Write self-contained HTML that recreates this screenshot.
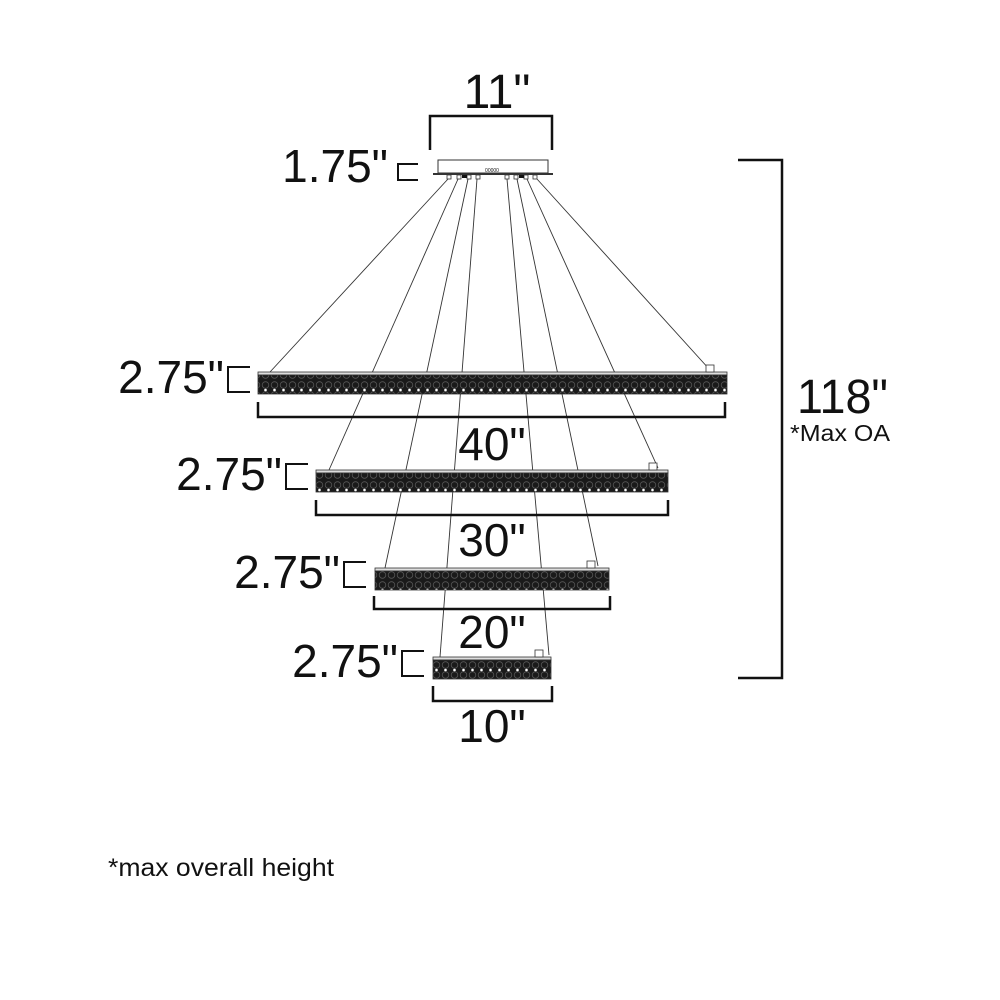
<!DOCTYPE html>
<html><head><meta charset="utf-8"><style>
html,body{margin:0;padding:0;background:#fff;}
svg{display:block;}
text{font-family:"Liberation Sans","DejaVu Sans",sans-serif;fill:#111;}
</style></head><body>
<svg width="1000" height="1000" viewBox="0 0 1000 1000" xmlns="http://www.w3.org/2000/svg">
<defs>
<pattern id="dots" x="0" y="0" width="9" height="20" patternUnits="userSpaceOnUse">
<rect width="9" height="20" fill="#1a1a1a"/>
<circle cx="4.5" cy="5" r="3.3" fill="none" stroke="#555" stroke-width="0.8"/>
<circle cx="4.5" cy="15" r="3.3" fill="none" stroke="#555" stroke-width="0.8"/>
<circle cx="4.5" cy="10" r="1.3" fill="#fff"/>
</pattern>
</defs>

<text x="497" y="108" font-size="48" text-anchor="middle">11"</text>
<path d="M430 150 V116 H552 V150" fill="none" stroke="#111" stroke-width="2.5"/>

<rect x="438" y="160" width="110" height="13" fill="#fff" stroke="#333" stroke-width="1"/>
<rect x="433" y="173" width="120" height="2" fill="#333"/>
<g fill="#fff" stroke="#333" stroke-width="0.8">
<rect x="447" y="175" width="4" height="4"/><rect x="457" y="175" width="4" height="4"/>
<rect x="467" y="175" width="4" height="4"/><rect x="476" y="175" width="4" height="4"/>
<rect x="505" y="175" width="4" height="4"/><rect x="514" y="175" width="4" height="4"/>
<rect x="524" y="175" width="4" height="4"/><rect x="533" y="175" width="4" height="4"/>
</g>
<rect x="462" y="175" width="5" height="3" fill="#111"/><rect x="519" y="175" width="5" height="3" fill="#111"/>
<text x="492" y="172" font-size="5" text-anchor="middle">00000</text>

<text x="388" y="182" font-size="46" text-anchor="end">1.75"</text>
<path d="M418 164 H398 V180 H418" fill="none" stroke="#111" stroke-width="2"/>

<g stroke="#333" stroke-width="0.9">
<line x1="448" y1="179" x2="270" y2="372"/>
<line x1="537" y1="179" x2="710" y2="370"/>
<line x1="458" y1="179" x2="329" y2="470"/>
<line x1="527" y1="179" x2="658" y2="468"/>
<line x1="468" y1="179" x2="385" y2="568"/>
<line x1="517" y1="179" x2="598" y2="566"/>
<line x1="477" y1="179" x2="440" y2="657"/>
<line x1="507" y1="179" x2="549" y2="655"/>
</g>

<g stroke="#333" stroke-width="0.8">
<rect x="258" y="372" width="469" height="3" fill="#ddd"/>
<rect x="258" y="375" width="469" height="19" fill="url(#dots)"/>
<rect x="316" y="470" width="352" height="3" fill="#ddd"/>
<rect x="316" y="473" width="352" height="19" fill="url(#dots)"/>
<rect x="375" y="568" width="234" height="3" fill="#ddd"/>
<rect x="375" y="571" width="234" height="19" fill="url(#dots)"/>
<rect x="433" y="657" width="118" height="3" fill="#ddd"/>
<rect x="433" y="660" width="118" height="19" fill="url(#dots)"/>
<rect x="706" y="365" width="8" height="7" fill="#fff"/>
<rect x="649" y="463" width="8" height="7" fill="#fff"/>
<rect x="587" y="561" width="8" height="7" fill="#fff"/>
<rect x="535" y="650" width="8" height="7" fill="#fff"/>
</g>

<g fill="none" stroke="#111" stroke-width="2.5">
<path d="M258 402 V417 H725 V402"/>
<path d="M316 500 V515 H668 V500"/>
<path d="M374 596 V609 H610 V596"/>
<path d="M433 686 V701 H552 V686"/>
</g>
<g font-size="46" text-anchor="middle">
<text x="492" y="460">40"</text>
<text x="492" y="556">30"</text>
<text x="492" y="648">20"</text>
<text x="492" y="742">10"</text>
</g>

<g font-size="46" text-anchor="end">
<text x="224" y="393">2.75"</text>
<text x="282" y="490">2.75"</text>
<text x="340" y="588">2.75"</text>
<text x="398" y="677">2.75"</text>
</g>
<g fill="none" stroke="#111" stroke-width="2">
<path d="M250 367 H228 V392 H250"/>
<path d="M308 464 H286 V489 H308"/>
<path d="M366 562 H344 V587 H366"/>
<path d="M424 651 H402 V676 H424"/>
</g>

<path d="M738 160 H782 V678 H738" fill="none" stroke="#111" stroke-width="2.5"/>
<text x="797" y="413" font-size="48" textLength="91" lengthAdjust="spacingAndGlyphs">118"</text>
<text x="790" y="441" font-size="23" textLength="100" lengthAdjust="spacingAndGlyphs">*Max OA</text>

<text x="108" y="876" font-size="25" textLength="226" lengthAdjust="spacingAndGlyphs">*max overall height</text>
</svg>
</body></html>
